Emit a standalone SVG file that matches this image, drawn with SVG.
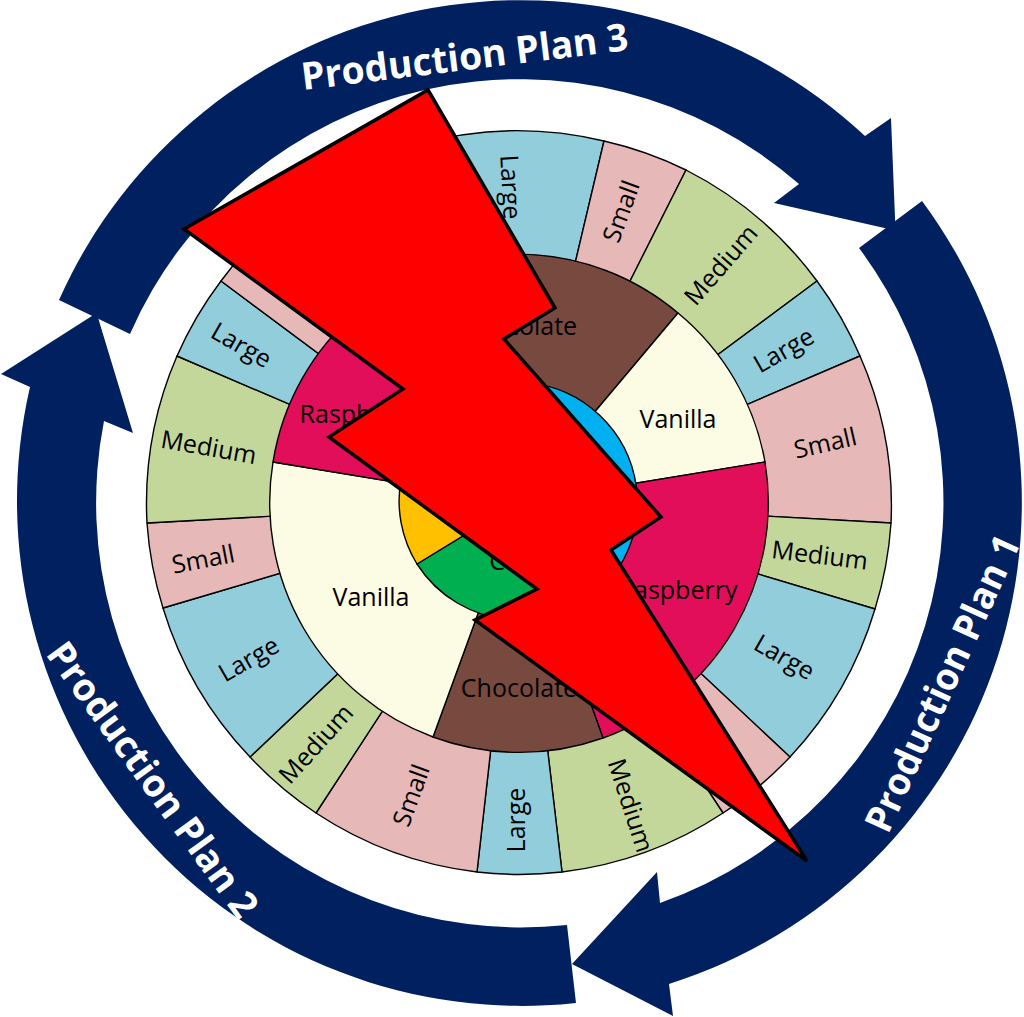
<svg xmlns="http://www.w3.org/2000/svg" width="1024" height="1017" viewBox="0 0 1024 1017">
<style>
.a{fill:#002060}
.s{stroke:#000;stroke-width:1.4;stroke-linejoin:round}
.L{fill:#92CDDC}.S{fill:#E6B8B7}.M{fill:#C4D79B}
.C{fill:#784A3F}.V{fill:#FCFBE3}.R{fill:#E20E5A}
.t{font-family:"Open Sans","Liberation Sans",sans-serif;font-size:25px;fill:#000;text-anchor:middle;dominant-baseline:central}
.p{font-family:"Open Sans","Liberation Sans",sans-serif;font-weight:700;font-size:38px;fill:#fff}
</style>
<g id="plan1">
<path class="a" d="M922 201A505 505 0 0 1 669 984L673 1016L572 964L657 872L660 903A425 425 0 0 0 859 248Z"/>
<text class="p" transform="translate(888 835) rotate(-65.5)" textLength="321" lengthAdjust="spacingAndGlyphs">Production Plan 1</text>
</g>
<g id="plan2">
<path class="a" d="M576 1003A505 505 0 0 1 30 387L1 374L96.6 313L133 433L104 421A425 425 0 0 0 567 925Z"/>
<text class="p" transform="translate(45 654) rotate(54)" textLength="330" lengthAdjust="spacingAndGlyphs">Production Plan 2</text>
</g>
<g id="plan3">
<path class="a" d="M59 300A505 505 0 0 1 865 136L891 118L895.5 230.6L774 203L799 184A425 425 0 0 0 130 334Z"/>
<text class="p" transform="translate(303 90) rotate(-7)" textLength="329" lengthAdjust="spacingAndGlyphs">Production Plan 3</text>
</g>
<g id="size-ring" class="s">
<path class="L" d="M518.5 502.5L416 145A372 372 0 0 1 604 141Z"/>
<path class="S" d="M518.5 502.5L604 141A372 372 0 0 1 686 170Z"/>
<path class="M" d="M518.5 502.5L686 170A372 372 0 0 1 817 281Z"/>
<path class="L" d="M518.5 502.5L817 281A372 372 0 0 1 860 356Z"/>
<path class="S" d="M518.5 502.5L860 356A372 372 0 0 1 891 523Z"/>
<path class="M" d="M518.5 502.5L891 523A372 372 0 0 1 875 609Z"/>
<path class="L" d="M518.5 502.5L875 609A372 372 0 0 1 790 757Z"/>
<path class="S" d="M518.5 502.5L790 757A372 372 0 0 1 723 813Z"/>
<path class="M" d="M518.5 502.5L723 813A372 372 0 0 1 562 872Z"/>
<path class="L" d="M518.5 502.5L562 872A372 372 0 0 1 477 872Z"/>
<path class="S" d="M518.5 502.5L477 872A372 372 0 0 1 316 813Z"/>
<path class="M" d="M518.5 502.5L316 813A372 372 0 0 1 250 757Z"/>
<path class="L" d="M518.5 502.5L250 757A372 372 0 0 1 163 608Z"/>
<path class="S" d="M518.5 502.5L163 608A372 372 0 0 1 147 523Z"/>
<path class="M" d="M518.5 502.5L147 523A372 372 0 0 1 177 356Z"/>
<path class="L" d="M518.5 502.5L177 356A372 372 0 0 1 221 281Z"/>
<path class="S" d="M518.5 502.5L221 281A372 372 0 0 1 416 145Z"/>
</g>
<g id="size-labels">
<text class="t" transform="translate(512 187) rotate(87)">Large</text>
<text class="t" transform="translate(620 211) rotate(-70)">Small</text>
<text class="t" transform="translate(720 264) rotate(-49)">Medium</text>
<text class="t" transform="translate(783 349) rotate(-30)">Large</text>
<text class="t" transform="translate(825 442) rotate(-13)">Small</text>
<text class="t" transform="translate(820 554) rotate(7)">Medium</text>
<text class="t" transform="translate(785 656) rotate(30)">Large</text>
<text class="t" transform="translate(718 742) rotate(50)">Small</text>
<text class="t" transform="translate(632 805) rotate(72)">Medium</text>
<text class="t" transform="translate(515 820) rotate(-90)">Large</text>
<text class="t" transform="translate(410 795) rotate(-70)">Small</text>
<text class="t" transform="translate(315 743) rotate(-48)">Medium</text>
<text class="t" transform="translate(248 658) rotate(-30)">Large</text>
<text class="t" transform="translate(203 558) rotate(-11)">Small</text>
<text class="t" transform="translate(209 446) rotate(10)">Medium</text>
<text class="t" transform="translate(242 344) rotate(30)">Large</text>
</g>
<g id="flavour-ring" class="s">
<path class="C" d="M518.5 502.5L358 311A250 250 0 0 1 678 313Z"/>
<path class="V" d="M518.5 502.5L678 313A250 250 0 0 1 765 462Z"/>
<path class="R" d="M518.5 502.5L765 462A250 250 0 0 1 603 738Z"/>
<path class="C" d="M518.5 502.5L603 738A250 250 0 0 1 433 737Z"/>
<path class="V" d="M518.5 502.5L433 737A250 250 0 0 1 273 462Z"/>
<path class="R" d="M518.5 502.5L273 462A250 250 0 0 1 358 311Z"/>
</g>
<g id="flavour-labels">
<text class="t" x="519" y="325">Chocolate</text>
<text class="t" x="678" y="418">Vanilla</text>
<text class="t" x="678" y="589">Raspberry</text>
<text class="t" x="519" y="687">Chocolate</text>
<text class="t" x="371" y="596">Vanilla</text>
<text class="t" x="359" y="413">Raspberry</text>
</g>
<g id="core" class="s">
<path d="M520 501L450 402A121 121 0 0 1 621 564Z" fill="#00B0F0"/>
<path d="M520 501L621 564A121 121 0 0 1 417 564Z" fill="#00B050"/>
<path d="M520 501L417 564A121 121 0 0 1 450 402Z" fill="#FFC000"/>
</g>
<text class="t" x="497" y="560">C</text>
<polygon id="bolt" points="184,229 428,90 555,308 504,339 661,517 611,550 807,861 475,620 537,589 329,437 403,389" fill="#f00" stroke="#000" stroke-width="3.5" stroke-linejoin="miter"/>
</svg>
